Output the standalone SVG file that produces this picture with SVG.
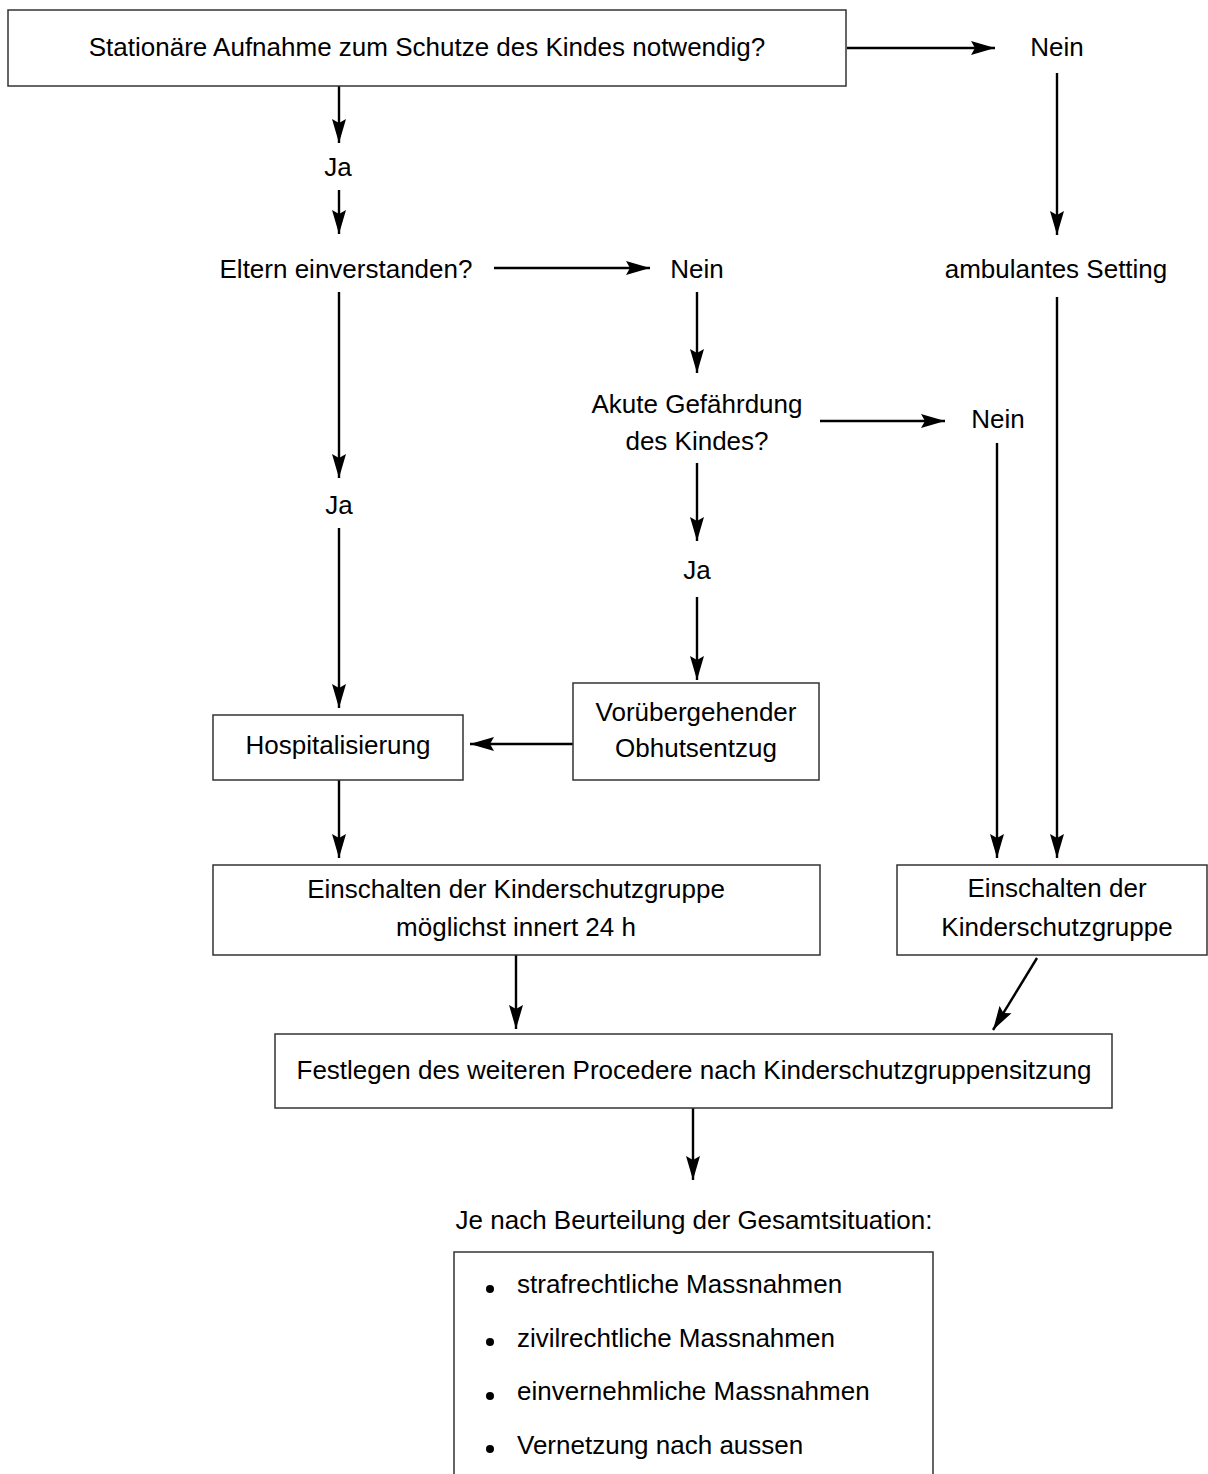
<svg xmlns="http://www.w3.org/2000/svg" width="1208" height="1474" viewBox="0 0 1208 1474">
<style>
text{font-family:"Liberation Sans",Arial,sans-serif;font-size:26px;fill:#000;text-anchor:middle}
.box{fill:#fff;stroke:#333;stroke-width:1.5}
.c{stroke:#000;stroke-width:2.4;fill:none;marker-end:url(#ah)}
.l{text-anchor:start}
</style>
<defs>
<marker id="ah" markerUnits="userSpaceOnUse" markerWidth="26" markerHeight="16" refX="24" refY="8" orient="auto">
<path d="M0,1 L24,8 L0,15 L4,8 Z" fill="#000"/>
</marker>
</defs>
<rect width="1208" height="1474" fill="#fff"/>
<g id="connectors">
<line class="c" x1="847" y1="48" x2="995" y2="48"/>
<line class="c" x1="339" y1="86" x2="339" y2="143"/>
<line class="c" x1="339" y1="190" x2="339" y2="234"/>
<line class="c" x1="494" y1="268" x2="650" y2="268"/>
<line class="c" x1="1057" y1="73" x2="1057" y2="235"/>
<line class="c" x1="1057" y1="297" x2="1057" y2="858"/>
<line class="c" x1="697" y1="292" x2="697" y2="373"/>
<line class="c" x1="820" y1="421" x2="945" y2="421"/>
<line class="c" x1="997" y1="443" x2="997" y2="858"/>
<line class="c" x1="339" y1="292" x2="339" y2="478"/>
<line class="c" x1="339" y1="528" x2="339" y2="708"/>
<line class="c" x1="697" y1="463" x2="697" y2="541"/>
<line class="c" x1="697" y1="597" x2="697" y2="680"/>
<line class="c" x1="573" y1="744" x2="470" y2="744"/>
<line class="c" x1="339" y1="780" x2="339" y2="858"/>
<line class="c" x1="516" y1="955" x2="516" y2="1029"/>
<line class="c" x1="1037" y1="958" x2="993" y2="1030"/>
<line class="c" x1="693" y1="1108" x2="693" y2="1180"/>
</g>
<g id="n-start">
<rect class="box" x="8" y="10" width="838" height="76"/>
<text x="427" y="56">Stationäre Aufnahme zum Schutze des Kindes notwendig?</text>
</g>
<g id="n-nein1"><text x="1057" y="56">Nein</text></g>
<g id="n-ja1"><text x="338" y="176">Ja</text></g>
<g id="n-eltern"><text x="346" y="278">Eltern einverstanden?</text></g>
<g id="n-nein2"><text x="697" y="278">Nein</text></g>
<g id="n-ambulant"><text x="1056" y="278">ambulantes Setting</text></g>
<g id="n-akut"><text x="697" y="413">Akute Gefährdung</text><text x="697" y="450">des Kindes?</text></g>
<g id="n-nein3"><text x="998" y="428">Nein</text></g>
<g id="n-ja2"><text x="339" y="514">Ja</text></g>
<g id="n-ja3"><text x="697" y="579">Ja</text></g>
<g id="n-obhut">
<rect class="box" x="573" y="683" width="246" height="97"/>
<text x="696" y="721">Vorübergehender</text>
<text x="696" y="757">Obhutsentzug</text>
</g>
<g id="n-hosp">
<rect class="box" x="213" y="715" width="250" height="65"/>
<text x="338" y="754">Hospitalisierung</text>
</g>
<g id="n-ksg1">
<rect class="box" x="213" y="865" width="607" height="90"/>
<text x="516" y="898">Einschalten der Kinderschutzgruppe</text>
<text x="516" y="936">möglichst innert 24 h</text>
</g>
<g id="n-ksg2">
<rect class="box" x="897" y="865" width="310" height="90"/>
<text x="1057" y="897">Einschalten der</text>
<text x="1057" y="936">Kinderschutzgruppe</text>
</g>
<g id="n-festlegen">
<rect class="box" x="275" y="1034" width="837" height="74"/>
<text x="694" y="1079">Festlegen des weiteren Procedere nach Kinderschutzgruppensitzung</text>
</g>
<g id="n-je"><text x="694" y="1229">Je nach Beurteilung der Gesamtsituation:</text></g>
<g id="n-massnahmen">
<path class="box" d="M454,1480 V1252 H933 V1480"/>
<circle cx="490" cy="1289" r="4"/>
<circle cx="490" cy="1342" r="4"/>
<circle cx="490" cy="1396" r="4"/>
<circle cx="490" cy="1449" r="4"/>
<text class="l" x="517" y="1293">strafrechtliche Massnahmen</text>
<text class="l" x="517" y="1347">zivilrechtliche Massnahmen</text>
<text class="l" x="517" y="1400">einvernehmliche Massnahmen</text>
<text class="l" x="517" y="1454">Vernetzung nach aussen</text>
</g>
</svg>
